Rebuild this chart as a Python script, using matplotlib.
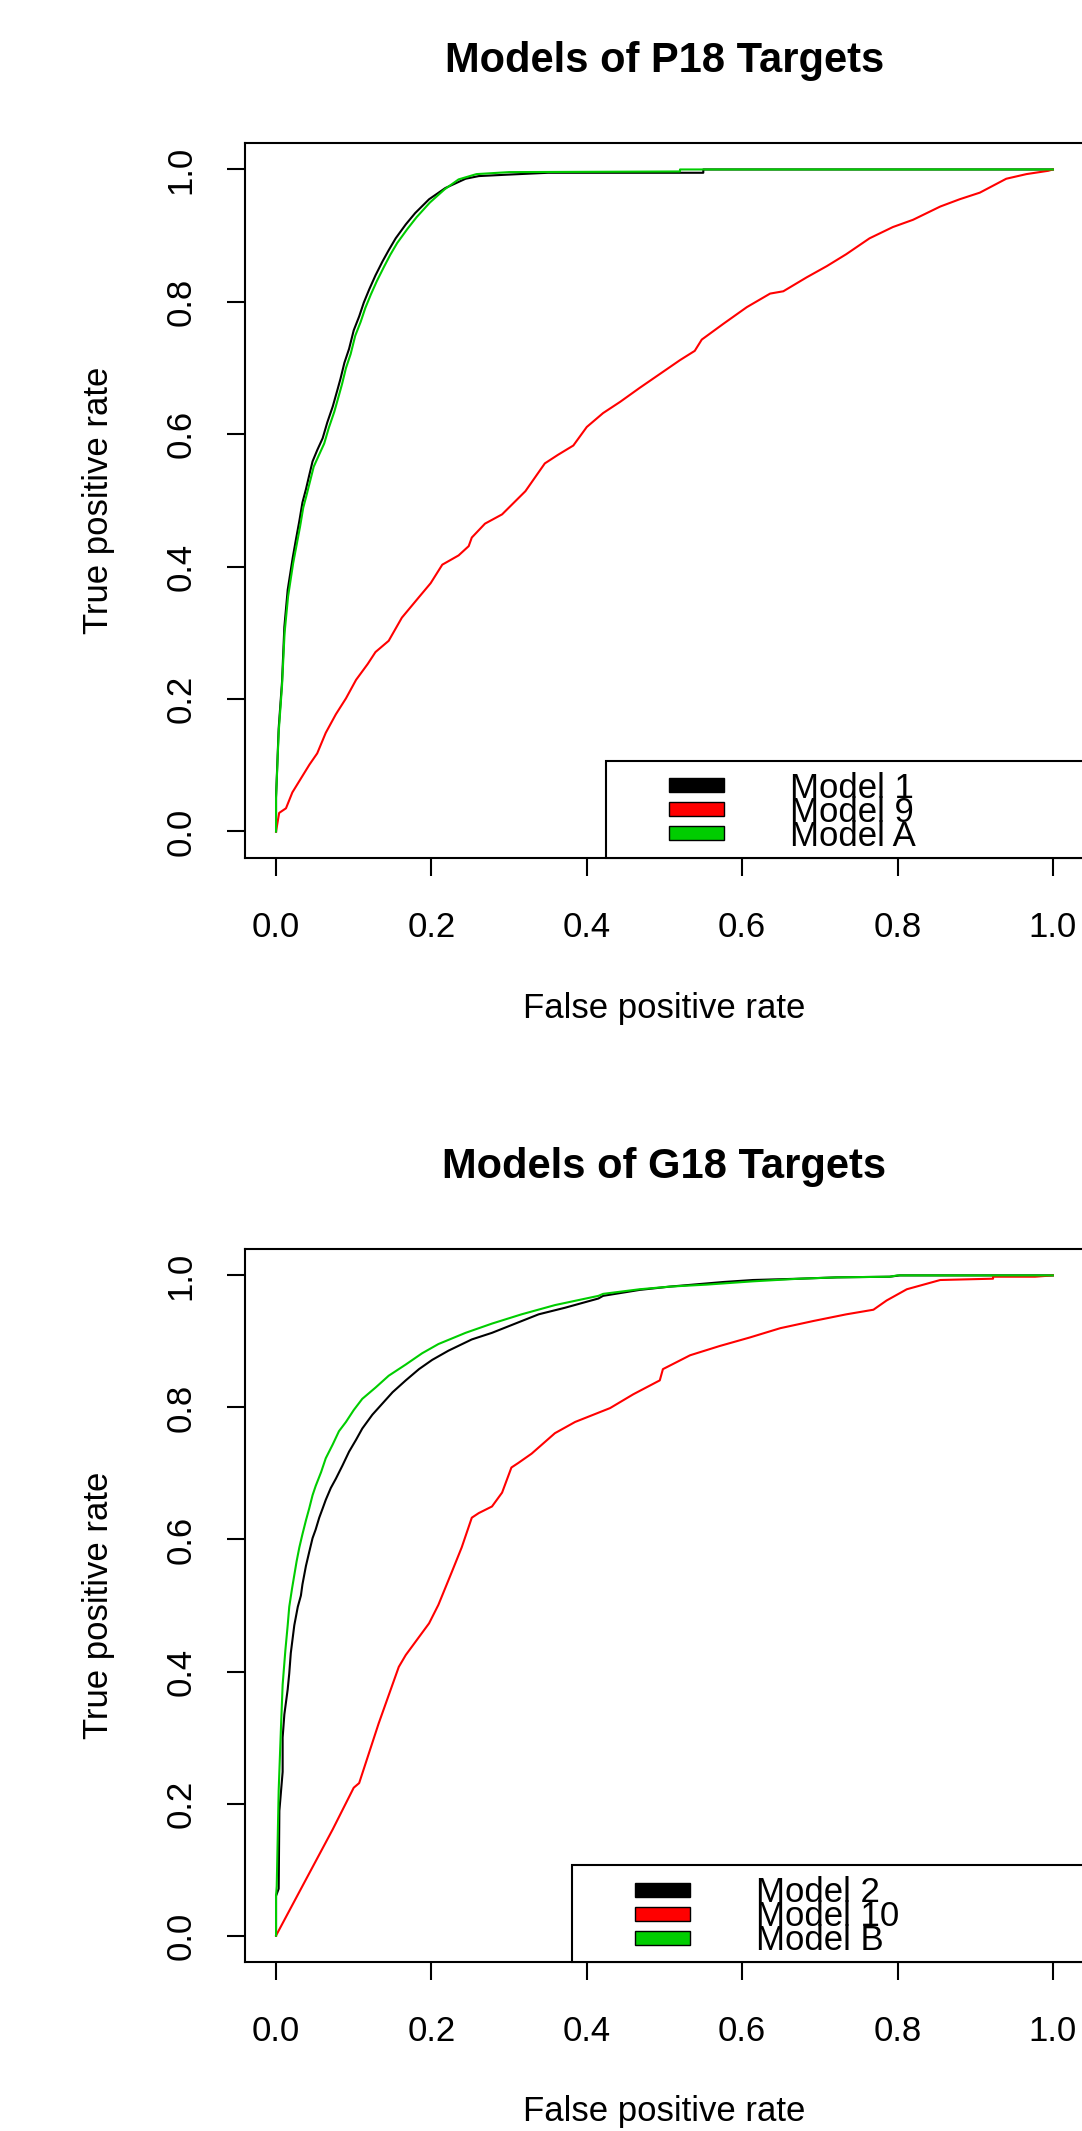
import matplotlib
matplotlib.use("Agg")
import matplotlib.pyplot as plt
from matplotlib.patches import Rectangle

plt.rcParams['font.family'] = ['Liberation Sans', 'DejaVu Sans']

# --- Models of P18 Targets ---
fpr_m1 = [0, 0, 0.0034, 0.0077, 0.0107, 0.015, 0.0214, 0.0256, 0.030, 0.034, 0.0385, 0.0427, 0.047,
          0.053, 0.060, 0.066, 0.073, 0.079, 0.083, 0.088, 0.094, 0.100, 0.107, 0.113, 0.120, 0.128,
          0.137, 0.145, 0.154, 0.167, 0.179, 0.197, 0.218, 0.244, 0.261, 0.295, 0.350, 0.55, 0.55, 1.0]
tpr_m1 = [0, 0.052, 0.156, 0.226, 0.309, 0.365, 0.413, 0.441, 0.469, 0.497, 0.517, 0.538, 0.559,
          0.576, 0.594, 0.618, 0.642, 0.667, 0.684, 0.708, 0.729, 0.757, 0.778, 0.799, 0.819, 0.840,
          0.861, 0.878, 0.896, 0.917, 0.934, 0.955, 0.972, 0.986, 0.990, 0.992, 0.995, 0.995, 1.0, 1.0]

fpr_m9 = [0, 0.004, 0.0128, 0.021, 0.032, 0.043, 0.053, 0.064, 0.077, 0.090, 0.103, 0.118, 0.128,
          0.145, 0.162, 0.184, 0.199, 0.214, 0.235, 0.248, 0.252, 0.269, 0.291, 0.321, 0.346, 0.363,
          0.3827, 0.400, 0.421, 0.443, 0.468, 0.494, 0.520, 0.539, 0.548, 0.576, 0.606, 0.636, 0.653,
          0.683, 0.709, 0.734, 0.764, 0.794, 0.820, 0.855, 0.880, 0.906, 0.940, 0.966, 0.994, 1.0]
tpr_m9 = [0, 0.028, 0.035, 0.059, 0.080, 0.101, 0.118, 0.149, 0.177, 0.201, 0.229, 0.253, 0.271,
          0.288, 0.323, 0.354, 0.375, 0.403, 0.417, 0.431, 0.444, 0.465, 0.479, 0.514, 0.556, 0.569,
          0.583, 0.611, 0.632, 0.649, 0.670, 0.691, 0.712, 0.726, 0.743, 0.767, 0.792, 0.8125, 0.816,
          0.837, 0.854, 0.872, 0.896, 0.913, 0.924, 0.944, 0.955, 0.965, 0.986, 0.993, 0.998, 1.0]

fpr_ma = [0, 0, 0.0034, 0.0077, 0.011, 0.0155, 0.022, 0.0265, 0.031, 0.035, 0.0395, 0.044, 0.0485,
          0.055, 0.062, 0.068, 0.075, 0.081, 0.085, 0.090, 0.096, 0.102, 0.109, 0.115, 0.122, 0.130,
          0.139, 0.147, 0.156, 0.169, 0.181, 0.198, 0.217, 0.235, 0.258, 0.30, 0.52, 0.52, 1.0]
tpr_ma = [0, 0.05, 0.15, 0.22, 0.30, 0.355, 0.405, 0.433, 0.461, 0.489, 0.509, 0.530, 0.551,
          0.568, 0.586, 0.610, 0.634, 0.659, 0.676, 0.700, 0.721, 0.749, 0.770, 0.791, 0.811, 0.832,
          0.853, 0.871, 0.889, 0.910, 0.928, 0.950, 0.970, 0.985, 0.993, 0.996, 0.997, 1.0, 1.0]

# --- Models of G18 Targets ---
fpr_m2 = [0, 0, 0.0034, 0.0043, 0.0085, 0.0085, 0.0107, 0.015, 0.017, 0.019, 0.0235, 0.028, 0.032,
          0.034, 0.0385, 0.0427, 0.047, 0.051, 0.0556, 0.060, 0.064, 0.0705, 0.077, 0.0855, 0.094,
          0.103, 0.111, 0.124, 0.137, 0.150, 0.167, 0.184, 0.201, 0.222, 0.252, 0.278, 0.308, 0.338,
          0.372, 0.415, 0.421, 0.468, 0.507, 0.576, 0.614, 0.674, 0.722, 0.790, 0.803, 1.0]
tpr_m2 = [0, 0.06, 0.071, 0.189, 0.248, 0.300, 0.335, 0.373, 0.397, 0.428, 0.470, 0.498, 0.515,
          0.532, 0.560, 0.581, 0.602, 0.615, 0.633, 0.647, 0.660, 0.678, 0.692, 0.712, 0.733,
          0.751, 0.768, 0.789, 0.806, 0.823, 0.841, 0.858, 0.872, 0.886, 0.903, 0.913, 0.927, 0.941,
          0.951, 0.965, 0.969, 0.978, 0.983, 0.990, 0.993, 0.995, 0.997, 0.998, 1.0, 1.0]

fpr_m10 = [0, 0.0385, 0.073, 0.100, 0.107, 0.132, 0.158, 0.167, 0.197, 0.209, 0.226, 0.239, 0.252,
           0.261, 0.278, 0.291, 0.303, 0.312, 0.329, 0.359, 0.385, 0.400, 0.430, 0.460, 0.494, 0.498,
           0.533, 0.571, 0.610, 0.649, 0.692, 0.734, 0.769, 0.786, 0.812, 0.855, 0.923, 0.923, 0.977, 1.0]
tpr_m10 = [0, 0.085, 0.161, 0.224, 0.231, 0.321, 0.407, 0.425, 0.473, 0.501, 0.550, 0.588, 0.633,
           0.640, 0.650, 0.671, 0.709, 0.716, 0.730, 0.761, 0.778, 0.785, 0.799, 0.820, 0.841, 0.858,
           0.879, 0.893, 0.906, 0.920, 0.931, 0.941, 0.948, 0.962, 0.979, 0.993, 0.995, 0.998, 0.998, 1.0]

fpr_mb = [0, 0, 0.0009, 0.0034, 0.0064, 0.0085, 0.012, 0.015, 0.017, 0.0205, 0.0235, 0.0265, 0.030,
          0.034, 0.0385, 0.0427, 0.047, 0.051, 0.058, 0.064, 0.073, 0.081, 0.090, 0.100, 0.111, 0.128,
          0.145, 0.167, 0.188, 0.209, 0.244, 0.278, 0.316, 0.359, 0.415, 0.421, 0.468, 0.507, 0.554,
          0.614, 0.674, 0.722, 0.790, 0.80, 1.0]
tpr_mb = [0, 0.06, 0.075, 0.220, 0.317, 0.380, 0.432, 0.470, 0.498, 0.525, 0.546, 0.567, 0.588,
          0.608, 0.629, 0.647, 0.667, 0.681, 0.702, 0.723, 0.744, 0.764, 0.778, 0.796, 0.813, 0.830,
          0.848, 0.865, 0.882, 0.896, 0.913, 0.927, 0.941, 0.955, 0.969, 0.972, 0.979, 0.983, 0.986,
          0.991, 0.995, 0.997, 0.998, 1.0, 1.0]

titles = ["Models of P18 Targets", "Models of G18 Targets"]
labels_top = ["Model 1", "Model 9", "Model A"]
labels_bot = ["Model 2", "Model 10", "Model B"]
colors = ["#000000", "#FF0000", "#00CD00"]
ticks = [0.0, 0.2, 0.4, 0.6, 0.8, 1.0]
tick_labels = ["0.0", "0.2", "0.4", "0.6", "0.8", "1.0"]

fig = plt.figure(figsize=(10.82, 21.31), dpi=100)
ax1 = fig.add_axes([0.2264, 0.5974, 0.7754, 0.3355])
ax2 = fig.add_axes([0.2264, 0.0793, 0.7754, 0.3346])

panels = [
    (ax1, titles[0], [(fpr_m1, tpr_m1), (fpr_m9, tpr_m9), (fpr_ma, tpr_ma)], labels_top, 361),
    (ax2, titles[1], [(fpr_m2, tpr_m2), (fpr_m10, tpr_m10), (fpr_mb, tpr_mb)], labels_bot, 327),
]

for ax, title, curves, labels, leg_left in panels:
    for (fx, ty), c in zip(curves, colors):
        ax.plot(fx, ty, color=c, lw=1.5)
    ax.set_xlim(-0.04, 1.04)
    ax.set_ylim(-0.04, 1.04)
    ax.set_xticks(ticks)
    ax.set_xticklabels(tick_labels)
    ax.set_yticks(ticks)
    ax.set_yticklabels(tick_labels, rotation=90, va='center')
    ax.tick_params(axis='both', length=13, width=1.5, labelsize=25, colors='black')
    ax.tick_params(axis='x', pad=25)
    ax.tick_params(axis='y', pad=21)
    for s in ax.spines.values():
        s.set_linewidth(1.5)
    ax.text(0.5, 1.115, title, transform=ax.transAxes, ha='center', va='center',
            fontsize=30, fontweight='bold')
    ax.text(0.5, -0.21, "False positive rate", transform=ax.transAxes, ha='center',
            va='center', fontsize=25)
    ax.text(-0.174, 0.5, "True positive rate", transform=ax.transAxes, ha='center',
            va='center', rotation=90, fontsize=25)

    # legend drawn by hand (R style, tight rows)
    w = ax.bbox.width
    h = ax.bbox.height
    ax.add_patch(Rectangle((leg_left / w, 0), 1 - leg_left / w, 97 / h, transform=ax.transAxes,
                           facecolor='white', edgecolor='black', lw=1.5, zorder=5, clip_on=False))
    for i, (lab, c) in enumerate(zip(labels, colors)):
        cy = 97 - 24.5 - 24 * i
        ax.add_patch(Rectangle(((leg_left + 63) / w, (cy - 7) / h), 55 / w, 14 / h,
                               transform=ax.transAxes, facecolor=c, edgecolor='black',
                               lw=1, zorder=6, clip_on=False))
        ax.text((leg_left + 184) / w, (cy - 12.5) / h, lab, transform=ax.transAxes,
                ha='left', va='baseline', fontsize=25, zorder=7)

fig.savefig("out.png", dpi=100)
